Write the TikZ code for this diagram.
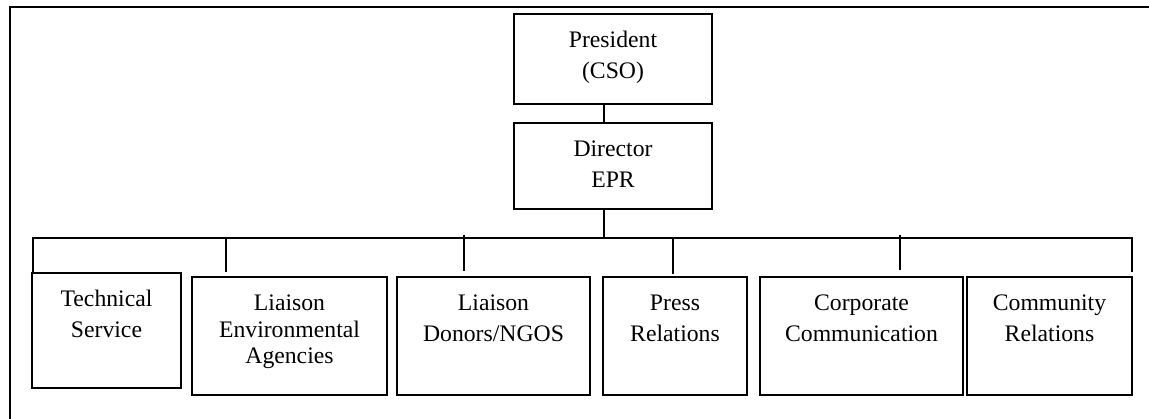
\documentclass[tikz,border=0pt]{standalone}
\usepackage{fontspec}
\setmainfont{Liberation Serif}
\newcommand\boxtxt[3]{\parbox[t][#2pt][t]{#1pt}{\centering\rule{0pt}{34pt}#3}}
\begin{document}
\begin{tikzpicture}[x=1pt,y=-1pt,
  unit/.style={draw, line width=1.9pt, inner sep=0pt, outer sep=0pt, anchor=north west,
    font=\fontsize{23.7}{31}\selectfont},
  link/.style={line width=1.9pt}]
\useasboundingbox (0,0) rectangle (1149,419);
% outer frame (runs past the right and bottom edges)
\draw[link] (1149,7) -- (10,7) -- (10,419);
% boxes
\node[unit] (pres) at (514,14) {\boxtxt{198}{90}{President\\(CSO)}};
\node[unit] (dir) at (514,123) {\boxtxt{198}{86}{Director\\EPR}};
\node[unit] (tech) at (32,273) {\boxtxt{149}{115}{Technical\\Service}};
\node[unit] (env) at (192,277) {\boxtxt{195}{118}{\fontsize{23.7}{26.5}\selectfont Liaison\\Environmental\\Agencies}};
\node[unit] (don) at (397,277) {\boxtxt{193}{118}{Liaison\\Donors/NGOS}};
\node[unit] (press) at (603,277) {\boxtxt{144}{118}{Press\\Relations}};
\node[unit] (corp) at (760,277) {\boxtxt{203}{118}{Corporate\\Communication}};
\node[unit] (comm) at (967,277) {\boxtxt{165}{118}{Community\\Relations}};
% bar
\coordinate (cx) at (604,0);
\coordinate (barL) at (33,238);
\coordinate (barR) at (1132,238);
\draw[link] (pres.south -| cx) -- (dir.north -| cx);
\draw[link] (dir.south -| cx) -- (barL -| cx);
\draw[link] (tech.north west -| barL) -- (barL) -- (barR) -- ([yshift=5pt]comm.north east);
\draw[link] ([xshift=34pt]env.north west |- barL) -- ([xshift=34pt,yshift=5pt]env.north west);
\draw[link] ([xshift=67pt,yshift=3pt]don.north west |- barL) -- ([xshift=67pt,yshift=6pt]don.north west);
\draw[link] ([xshift=70pt]press.north west |- barL) -- ([xshift=70pt,yshift=3pt]press.north west);
\draw[link] ([xshift=140pt,yshift=3pt]corp.north west |- barL) -- ([xshift=140pt,yshift=7pt]corp.north west);
\end{tikzpicture}
\end{document}
